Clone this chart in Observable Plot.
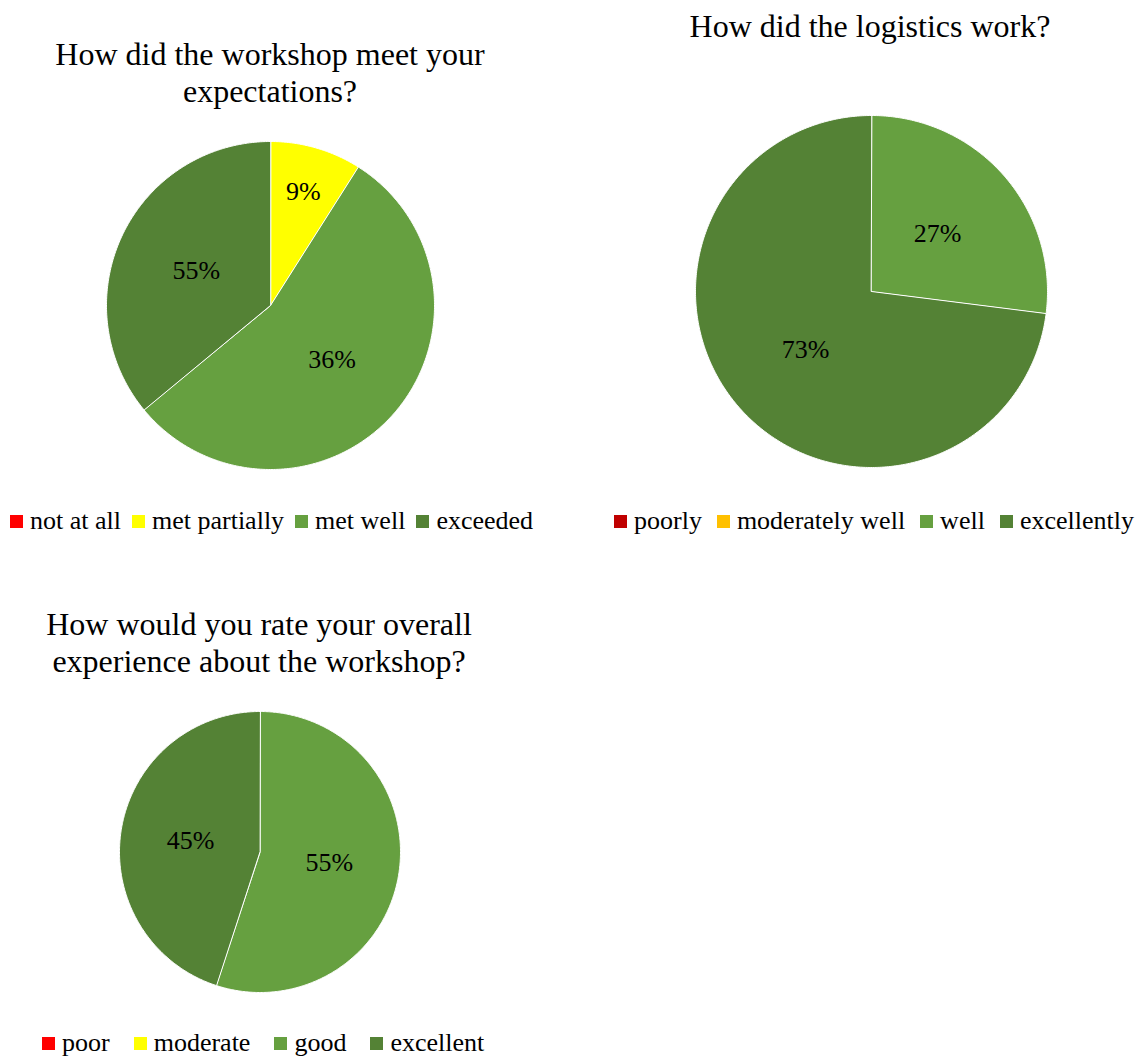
<!DOCTYPE html>
<html>
<head>
<meta charset="utf-8">
<script src="https://cdn.jsdelivr.net/npm/d3@7"></script>
<script src="https://cdn.jsdelivr.net/npm/@observablehq/plot@0.6"></script>
<style>
  html, body { margin: 0; padding: 0; background: #fff; }
  #root { position: relative; width: 1138px; height: 1057px; font-family: "Liberation Serif", "Times New Roman", serif; color: #000; overflow: hidden; }
  .title { position: absolute; text-align: center; font-size: 32px; line-height: 37px; white-space: nowrap; }
  .legend { position: absolute; display: flex; align-items: center; font-size: 26px; white-space: nowrap; line-height: 24px; height: 24px; }
  .legend .item { display: flex; align-items: center; }
  .legend .sw { width: 13px; height: 13px; margin-right: 7px; display: inline-block; }
  .pie { position: absolute; }
</style>
</head>
<body>
<div id="root"></div>
<script>
// ---- Data ----
// Chart 1: How did the workshop meet your expectations?
const expTitle = ["How did the workshop meet your", "expectations?"];
const expCategories = ["not at all", "met partially", "met well", "exceeded"];
const expValues = [0, 9, 55, 36];              // slice sizes as drawn
const expLabels = ["", "9%", "36%", "55%"];    // label texts as printed
const expColors = ["#FF0000", "#FFFF00", "#66A040", "#548235"];

// Chart 2: How did the logistics work?
const logTitle = ["How did the logistics work?"];
const logCategories = ["poorly", "moderately well", "well", "excellently"];
const logValues = [0, 0, 27, 73];
const logLabels = ["", "", "27%", "73%"];
const logColors = ["#C00000", "#FFC000", "#66A040", "#548235"];

// Chart 3: How would you rate your overall experience about the workshop?
const ovTitle = ["How would you rate your overall", "experience about the workshop?"];
const ovCategories = ["poor", "moderate", "good", "excellent"];
const ovValues = [0, 0, 55, 45];
const ovLabels = ["", "", "55%", "45%"];
const ovColors = ["#FF0000", "#FFFF00", "#66A040", "#548235"];

// ---- Drawing ----
const root = document.getElementById("root");

function piePlot(categories, values, labels, colors, R) {
  const arcs = d3.pie().sort(null).value(d => d)(values);
  const poly = [];
  const lab = [];
  arcs.forEach((a, i) => {
    if (a.value <= 0) return;
    const key = categories[i];
    poly.push({key, x: 0, y: 0});
    const n = Math.max(2, Math.ceil((a.endAngle - a.startAngle) / 0.01));
    for (let k = 0; k <= n; k++) {
      const t = a.startAngle + (a.endAngle - a.startAngle) * k / n;
      poly.push({key, x: Math.sin(t), y: Math.cos(t)});
    }
    const mid = (a.startAngle + a.endAngle) / 2;
    const frac = (a.endAngle - a.startAngle) < 0.6 ? 0.72 : 0.5;
    if (labels[i]) lab.push({text: labels[i], x: frac * Math.sin(mid), y: frac * Math.cos(mid)});
  });
  const size = 2 * R + 4;
  return Plot.plot({
    width: size,
    height: size,
    margin: 2,
    x: {domain: [-1, 1], axis: null},
    y: {domain: [-1, 1], axis: null},
    color: {domain: categories, range: colors},
    style: {fontFamily: "Liberation Serif", background: "transparent", color: "#000", overflow: "visible"},
    marks: [
      Plot.line(poly, {x: "x", y: "y", z: "key", fill: "key", stroke: "white", strokeWidth: 1, curve: "linear-closed"}),
      Plot.text(lab, {x: "x", y: "y", text: "text", fontSize: 26, fontFamily: "Liberation Serif", fill: "#000"})
    ]
  });
}

function addPie(categories, values, labels, colors, cx, cy, R) {
  const el = piePlot(categories, values, labels, colors, R);
  el.classList.add("pie");
  el.style.left = (cx - R - 2) + "px";
  el.style.top = (cy - R - 2) + "px";
  root.appendChild(el);
}

function addTitle(lines, cx, top) {
  const d = document.createElement("div");
  d.className = "title";
  d.style.left = (cx - 300) + "px";
  d.style.width = "600px";
  d.style.top = top + "px";
  lines.forEach((l, i) => {
    if (i) d.appendChild(document.createElement("br"));
    d.appendChild(document.createTextNode(l));
  });
  root.appendChild(d);
}

function addLegend(categories, colors, left, cy, gap) {
  const d = document.createElement("div");
  d.className = "legend";
  d.style.left = left + "px";
  d.style.top = (cy - 12) + "px";
  categories.forEach((c, i) => {
    const it = document.createElement("span");
    it.className = "item";
    if (i) it.style.marginLeft = gap + "px";
    const sw = document.createElement("span");
    sw.className = "sw";
    sw.style.background = colors[i];
    it.appendChild(sw);
    it.appendChild(document.createTextNode(c));
    d.appendChild(it);
  });
  root.appendChild(d);
}

addTitle(expTitle, 270, 36);
addPie(expCategories, expValues, expLabels, expColors, 270, 305, 164);
addLegend(expCategories, expColors, 10, 521, 11);

addTitle(logTitle, 870, 8);
addPie(logCategories, logValues, logLabels, logColors, 870.5, 291, 176);
addLegend(logCategories, logColors, 614, 521, 15);

addTitle(ovTitle, 259, 606);
addPie(ovCategories, ovValues, ovLabels, ovColors, 259.5, 851.5, 140.5);
addLegend(ovCategories, ovColors, 42, 1043, 24);
</script>
</body>
</html>
